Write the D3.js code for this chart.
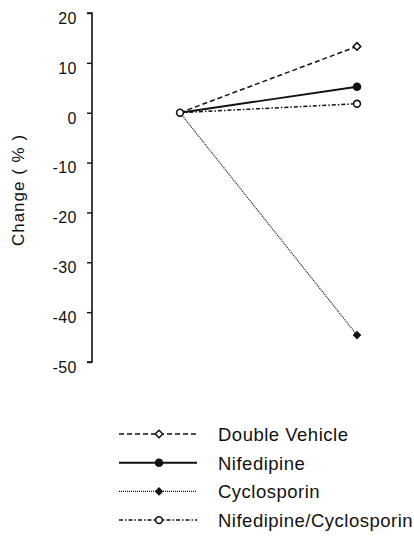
<!DOCTYPE html>
<html>
<head>
<meta charset="utf-8">
<script src="https://cdn.jsdelivr.net/npm/d3@7"></script>
<style>
  html, body { margin: 0; padding: 0; background: #fff; }
  svg text { font-family: "Liberation Sans", Arial, sans-serif; fill: #111; }
</style>
</head>
<body>
<svg id="chart" width="414" height="544"></svg>
<script>
const timepoints = ["Before", "After"];
const seriesNames = ["Double Vehicle", "Nifedipine", "Cyclosporin", "Nifedipine/Cyclosporin"];
const doubleVehicle = [0, 13.3];
const nifedipine = [0, 5.2];
const cyclosporin = [0, -44.6];
const nifCyc = [0, 1.8];
const yTicks = [20, 10, 0, -10, -20, -30, -40, -50];

const STYLES = {
  "Double Vehicle": { dash: "5,3", width: 1.5, marker: "diamondOpen" },
  "Nifedipine": { dash: null, width: 1.9, marker: "circleFilled" },
  "Cyclosporin": { dash: "1,1", width: 1.2, marker: "diamondFilled" },
  "Nifedipine/Cyclosporin": { dash: "4,2,1.5,2", width: 1.5, marker: "circleOpen" },
};

const series = [
  { name: seriesNames[0], values: doubleVehicle },
  { name: seriesNames[1], values: nifedipine },
  { name: seriesNames[2], values: cyclosporin },
  { name: seriesNames[3], values: nifCyc },
];

const svg = d3.select("#chart");

const x = d3.scalePoint().domain(timepoints).range([180, 357]);
const y = d3.scaleLinear().domain([-50, 20]).range([362, 13]);

// Axis (hyphen minus like the original print)
const yAxis = d3.axisLeft(y)
  .tickValues(yTicks)
  .tickSize(5)
  .tickPadding(10)
  .tickFormat((d) => String(d));
const ax = svg.append("g").attr("transform", "translate(92,0)").call(yAxis);
ax.select(".domain").attr("stroke", "#111").attr("stroke-width", 1.6).attr("d", `M-5,${y(20)}H0V${y(-50)}H-5`);
ax.selectAll(".tick line").attr("stroke", "#111").attr("stroke-width", 1.4);
ax.selectAll(".tick text")
  .style("font-size", "16px")
  .style("letter-spacing", "0.5px")
  .attr("dy", "0.65em")
  .attr("fill", "#111");

svg.append("text")
  .attr("transform", `translate(24,190) rotate(-90)`)
  .attr("text-anchor", "middle")
  .style("font-size", "17px")
  .style("letter-spacing", "1px")
  .text("Change ( % )");

function drawMarker(g, type, cx, cy) {
  if (type === "circleFilled") {
    g.append("circle").attr("cx", cx).attr("cy", cy).attr("r", 4.3).attr("fill", "#111");
  } else if (type === "circleOpen") {
    g.append("circle").attr("cx", cx).attr("cy", cy).attr("r", 3.4)
      .attr("fill", "#fff").attr("stroke", "#111").attr("stroke-width", 1.6);
  } else if (type === "diamondFilled") {
    g.append("path").attr("d", `M${cx},${cy - 4.3}L${cx + 4.3},${cy}L${cx},${cy + 4.3}L${cx - 4.3},${cy}Z`).attr("fill", "#111");
  } else if (type === "diamondOpen") {
    g.append("path").attr("d", `M${cx},${cy - 3.8}L${cx + 3.8},${cy}L${cx},${cy + 3.8}L${cx - 3.8},${cy}Z`)
      .attr("fill", "#fff").attr("stroke", "#111").attr("stroke-width", 1.5);
  }
}

const line = d3.line().x((d, i) => x(timepoints[i])).y((d) => y(d));

const plot = svg.append("g");
series.forEach((s) => {
  const st = STYLES[s.name];
  plot.append("path")
    .datum(s.values)
    .attr("d", line)
    .attr("fill", "none")
    .attr("stroke", "#111")
    .attr("stroke-width", st.width)
    .attr("stroke-dasharray", st.dash);
});
series.forEach((s) => {
  const st = STYLES[s.name];
  drawMarker(plot, st.marker, x(timepoints[1]), y(s.values[1]));
});
// shared starting point
drawMarker(plot, "circleOpen", x(timepoints[0]), y(0));

// Legend
const legend = svg.append("g");
series.forEach((s, i) => {
  const st = STYLES[s.name];
  const ly = 434 + i * 28.7;
  legend.append("line")
    .attr("x1", 119).attr("x2", 197).attr("y1", ly).attr("y2", ly)
    .attr("stroke", "#111")
    .attr("stroke-width", st.width)
    .attr("stroke-dasharray", st.dash);
  drawMarker(legend, st.marker, 159, ly);
  legend.append("text")
    .attr("x", 218).attr("y", ly + 7)
    .style("font-size", "18.5px")
    .style("letter-spacing", "0.5px")
    .text(s.name);
});
</script>
</body>
</html>
